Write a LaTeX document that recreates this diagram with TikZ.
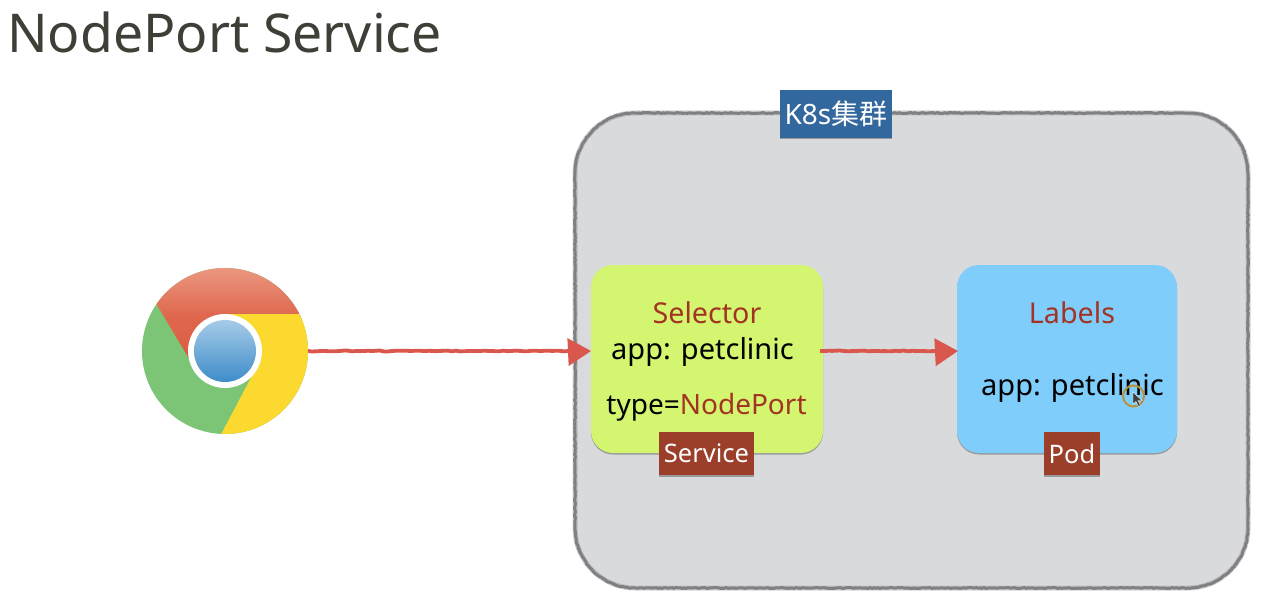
\documentclass[tikz,border=0pt]{standalone}
\usepackage{fontspec}
\setmainfont{Noto Sans}
\newfontfamily\cjk{Noto Sans CJK SC}
\usetikzlibrary{arrows.meta,shadows,decorations.pathmorphing,calc}
\definecolor{titlecol}{HTML}{3F3F38}
\definecolor{clusterfill}{HTML}{D9DADC}
\definecolor{clusterline}{HTML}{808084}
\definecolor{svcfill}{HTML}{D4F56F}
\definecolor{podfill}{HTML}{7ECDFB}
\definecolor{tagblue}{HTML}{33689F}
\definecolor{tagred}{HTML}{9B3F2A}
\definecolor{labred}{HTML}{A33322}
\definecolor{arrowred}{HTML}{D9574C}
\definecolor{crred}{HTML}{DB5A40}
\definecolor{crredl}{HTML}{EC9A83}
\definecolor{cryel}{HTML}{FBD92F}
\definecolor{crgrn}{HTML}{7CC576}
\definecolor{crblu}{HTML}{3E8CC8}
\definecolor{crblul}{HTML}{A6CBE8}
\definecolor{ringcol}{HTML}{B8923F}
\tikzset{
  x=1pt,y=-1pt,
  softshadow/.style={drop shadow={shadow xshift=0pt,shadow yshift=-1.5pt,opacity=.45,fill=black!70}},
  panel/.style={rounded corners=22pt,inner sep=0pt,outer sep=0pt,softshadow},
  tagbox/.style={inner sep=0pt,outer sep=0pt,text=white,softshadow},
  bodytext/.style={inner sep=0pt,font=\fontsize{29}{34}\selectfont,text=black},
  typetext/.style={inner sep=0pt,font=\fontsize{28}{34}\selectfont,text=black},
  headtext/.style={inner sep=0pt,font=\fontsize{28.7}{34}\selectfont,text=labred},
  flow/.style={draw=arrowred,line width=3.8pt,decorate,decoration={random steps,segment length=4pt,amplitude=.5pt},-{Triangle[length=23pt,width=27pt,fill=arrowred]}},
  pencil/.style={draw=clusterline,line width=3pt,decorate,decoration={random steps,segment length=2pt,amplitude=.45pt}},
  pencilhalo/.style={draw=clusterline,draw opacity=.35,line width=5pt},
}
\pgfmathsetseed{42}
\begin{document}
\begin{tikzpicture}
\useasboundingbox (0,0) rectangle (1263,604);
\fill[white] (0,0) rectangle (1263,604);
\node[inner sep=0pt,anchor=base west,text=titlecol,font=\fontsize{53.5}{62}\selectfont] (title) at (7,53) {NodePort Service};

% cluster
\fill[clusterfill,rounded corners=60pt] (575,113) rectangle (1248,588);
\draw[pencilhalo,rounded corners=60pt] (575,113) rectangle (1248,588);
\draw[pencil] (635,113) -- (1188,113)
   .. controls (1221,113) and (1248,140) .. (1248,173)
   -- (1248,528)
   .. controls (1248,561) and (1221,588) .. (1188,588)
   -- (635,588)
   .. controls (602,588) and (575,561) .. (575,528)
   -- (575,173)
   .. controls (575,140) and (602,113) .. (635,113);
\node[tagbox,fill=tagblue,minimum width=112pt,minimum height=48pt,font=\fontsize{28}{32}\selectfont] (k8s) at (836,114) {K8s{\cjk 集群}};

% service & pod
\node[panel,fill=svcfill,minimum width=232pt,minimum height=188pt] (service) at (707,359) {};
\node[panel,fill=podfill,minimum width=220pt,minimum height=188pt] (pod) at (1067,359) {};
\node[headtext] (sel) at (707,313) {Selector};
\node[bodytext] (sapp) at (702.5,352) {app: petclinic};
\node[typetext] (stype) at (706.5,407) {type={\color{labred}NodePort}};
\node[headtext] (lab) at (1072,313) {Labels};
\node[bodytext] (papp) at (1072.5,388) {app: petclinic};
\node[tagbox,fill=tagred,minimum width=95pt,minimum height=43pt,font=\fontsize{25.5}{30}\selectfont] (svctag) at (706.5,453.5) {Service};
\node[tagbox,fill=tagred,minimum width=56pt,minimum height=43pt,font=\fontsize{25.5}{30}\selectfont] (podtag) at (1072,453.5) {Pod};

% chrome icon
\node[circle,inner sep=0pt,outer sep=0pt,minimum size=166pt] (chrome) at (225,351) {};
\begin{scope}
  \clip (225,351) circle[radius=83];
  \fill[crgrn] (142,268) rectangle (308,434);
  \shade[top color=crredl,bottom color=crred,middle color=crred!80!crredl]
     (225,320) -- (310,320) -- (310,265) -- (140,265) -- (157,305) -- (194,367) -- cycle;
  \fill[cryel] (225,314) -- (310,314) -- (310,440) -- (218,440) -- (253,374) -- cycle;
\end{scope}
\fill[white] (225,351) circle[radius=37];
\shade[top color=crblul,bottom color=crblu] (225,351) circle[radius=31];

% connectors
\draw[flow] (chrome.east) -- (service.west |- chrome.east);
\draw[flow] ($(service.east |- chrome.east)+(-3,0)$) -- ($(pod.west |- chrome.east)+(1,0)$);

% pointer
\draw[ringcol,line width=2pt] (1133.5,396) circle[radius=10.5];
\fill[black!75,draw=white,line width=.4pt] (1133,392) -- (1133,404) -- (1136,401.5) -- (1138.5,406.5) -- (1140.5,405.5) -- (1138,400.5) -- (1142,400.5) -- cycle;
\end{tikzpicture}
\end{document}
